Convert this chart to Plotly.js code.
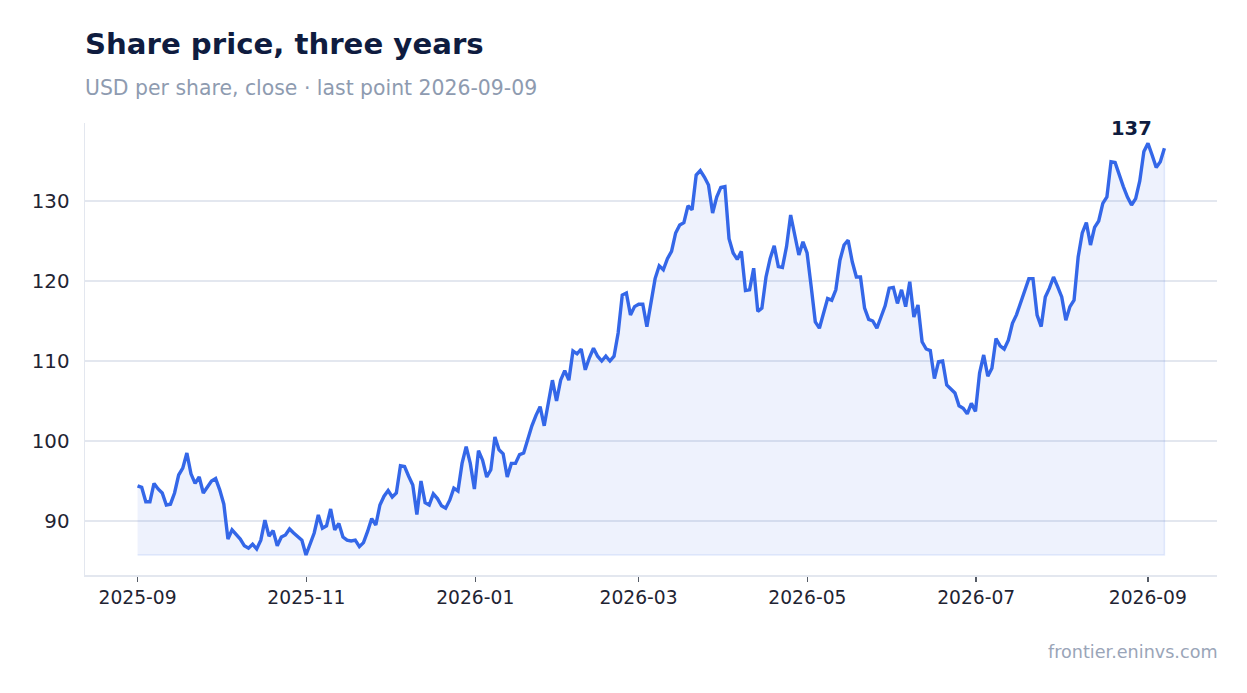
<!DOCTYPE html>
<html>
<head>
<meta charset="utf-8">
<script src="https://cdn.plot.ly/plotly-3.0.1.min.js"></script>
<style>html,body{margin:0;padding:0;background:#fff;}#chart{width:1247px;height:693px;}</style>
</head>
<body>
<div id="chart"></div>
<script>
// ---- data ----
var startDate = '2025-09-01';
var endDate = '2026-09-07';
var closePrice = [
  94.4, 94.2, 92.4, 92.4, 94.7, 94.0, 93.5, 92.0, 92.1, 93.5,
  95.75, 96.6, 98.5, 95.9, 94.7, 95.5, 93.5, 94.3, 95.0, 95.3,
  93.9, 92.1, 87.75, 88.9, 88.25, 87.75, 86.9, 86.6, 87.1, 86.5,
  87.6, 90.1, 88.1, 88.8, 86.9, 88.0, 88.25, 89.0, 88.5, 88.0,
  87.6, 85.75, 87.0, 88.5, 90.75, 89.1, 89.4, 91.5, 88.9, 89.7,
  88.0, 87.6, 87.5, 87.6, 86.8, 87.3, 88.7, 90.3, 89.5, 92.0,
  93.1, 93.8, 93.0, 93.5, 96.9, 96.8, 95.6, 94.5, 90.8, 95.0,
  92.3, 92.0, 93.4, 92.8, 91.9, 91.6, 92.6, 94.1, 93.75, 97.2,
  99.3, 97.2, 94.0, 98.8, 97.6, 95.5, 96.4, 100.5, 98.9, 98.4,
  95.5, 97.2, 97.2, 98.3, 98.5, 100.2, 101.9, 103.2, 104.3, 101.9,
  104.7, 107.6, 105.0, 107.6, 108.8, 107.6, 111.25, 110.9, 111.5, 108.9,
  110.4, 111.6, 110.6, 110.0, 110.6, 110.0, 110.6, 113.5, 118.25, 118.5,
  115.75, 116.8, 117.1, 117.1, 114.3, 117.2, 120.3, 121.9, 121.4, 122.8,
  123.7, 126.0, 127.0, 127.3, 129.4, 128.9, 133.25, 133.8, 133.0, 132.0,
  128.5, 130.5, 131.7, 131.8, 125.3, 123.5, 122.7, 123.7, 118.8, 118.9,
  121.6, 116.2, 116.6, 120.5, 122.8, 124.4, 121.8, 121.7, 124.3, 128.25,
  125.75, 123.25, 124.9, 123.5, 119.3, 114.9, 114.1, 115.9, 117.8, 117.6,
  118.9, 122.6, 124.5, 125.1, 122.4, 120.5, 120.5, 116.6, 115.2, 115.0,
  114.1, 115.5, 116.9, 119.1, 119.2, 117.2, 118.9, 116.8, 119.9, 115.5,
  117.0, 112.4, 111.5, 111.3, 107.8, 109.9, 110.0, 107.0, 106.5, 106.0,
  104.4, 104.1, 103.4, 104.7, 103.7, 108.5, 110.75, 108.1, 109.1, 112.8,
  111.9, 111.5, 112.6, 114.7, 115.8, 117.4, 118.7, 120.3, 120.3, 115.75,
  114.3, 118.0, 119.1, 120.5, 119.3, 118.0, 115.1, 116.8, 117.6, 123.0,
  126.0, 127.3, 124.5, 126.7, 127.5, 129.7, 130.5, 134.9, 134.8, 133.25,
  131.8, 130.5, 129.5, 130.3, 132.5, 136.2, 137.2, 135.75, 134.2, 134.9,
  136.6
];
var yTickValues = [90, 100, 110, 120, 130];
var titleText = 'Share price, three years';
var subtitleText = 'USD per share, close \u00b7 last point 2026-09-09';
var sourceText = 'frontier.eninvs.com';

// ---- evenly spaced observation dates between first and last point ----
var t0 = new Date(startDate + 'T00:00:00Z').getTime();
var t1 = new Date(endDate + 'T00:00:00Z').getTime();
var n = closePrice.length;
var dates = closePrice.map(function (_, i) {
  return new Date(t0 + (t1 - t0) * i / (n - 1)).toISOString().slice(0, 19).replace('T', ' ');
});

var base = Math.min.apply(null, closePrice);
var maxVal = Math.max.apply(null, closePrice);
var maxIdx = closePrice.indexOf(maxVal);
var lastVal = closePrice[n - 1];

var fillTrace = {
  x: dates.concat([dates[n - 1], dates[0]]),
  y: closePrice.concat([base, base]),
  type: 'scatter', mode: 'lines', fill: 'toself',
  fillcolor: 'rgba(53,104,232,0.085)',
  line: {color: 'rgba(53,104,232,0.12)', width: 1.5},
  hoverinfo: 'skip', showlegend: false
};
var lineTrace = {
  x: dates, y: closePrice,
  type: 'scatter', mode: 'lines',
  line: {color: '#3467e8', width: 3.4},
  showlegend: false
};

var font = 'DejaVu Sans, sans-serif';
var layout = {
  width: 1247, height: 693,
  margin: {l: 85, r: 30, t: 123, b: 118},
  paper_bgcolor: '#ffffff', plot_bgcolor: '#ffffff',
  font: {family: font, color: '#1f2433'},
  showlegend: false,
  xaxis: {
    type: 'date',
    range: ['2025-08-13', '2026-09-26'],
    tick0: '2025-09-01', dtick: 'M2', tickformat: '%Y-%m',
    ticks: 'outside', ticklen: 5, tickwidth: 1.5, tickcolor: '#555b66',
    showgrid: false, zeroline: false,
    showline: true, linecolor: '#e3e7ef', linewidth: 1.5,
    tickfont: {family: font, size: 18.7, color: '#1f2433'}
  },
  yaxis: {
    range: [83.25, 139.75],
    tickvals: yTickValues,
    showgrid: true, gridcolor: '#e3e7ef', gridwidth: 1.5,
    zeroline: false, showline: true, linecolor: '#e3e7ef', linewidth: 1.5,
    ticks: '', ticklabelstandoff: 10,
    tickfont: {family: font, size: 19.8, color: '#1f2433'}
  },
  annotations: [
    {text: '<b>' + titleText + '</b>', xref: 'paper', yref: 'paper', x: 0, y: 1.1748,
     xanchor: 'left', yanchor: 'middle', showarrow: false, xshift: -2,
     font: {family: font, size: 29.2, color: '#0f1c3f'}},
    {text: subtitleText, xref: 'paper', yref: 'paper', x: 0, y: 1.0774,
     xanchor: 'left', yanchor: 'middle', showarrow: false, xshift: -2,
     font: {family: font, size: 20.4, color: '#8e9bb0'}},
    {text: sourceText, xref: 'paper', yref: 'paper', x: 1, y: -0.1704,
     xanchor: 'right', yanchor: 'middle', showarrow: false, xshift: 3,
     font: {family: font, size: 17.6, color: '#9aa5b8'}},
    {text: '<b>' + Math.round(lastVal) + '</b>', x: dates[maxIdx], y: maxVal,
     xref: 'x', yref: 'y', xanchor: 'center', yanchor: 'bottom',
     xshift: -16, yshift: 1, showarrow: false,
     font: {family: font, size: 19.5, color: '#0f1c3f'}}
  ]
};

Plotly.newPlot('chart', [fillTrace, lineTrace], layout, {displayModeBar: false, staticPlot: true});
</script>
</body>
</html>
